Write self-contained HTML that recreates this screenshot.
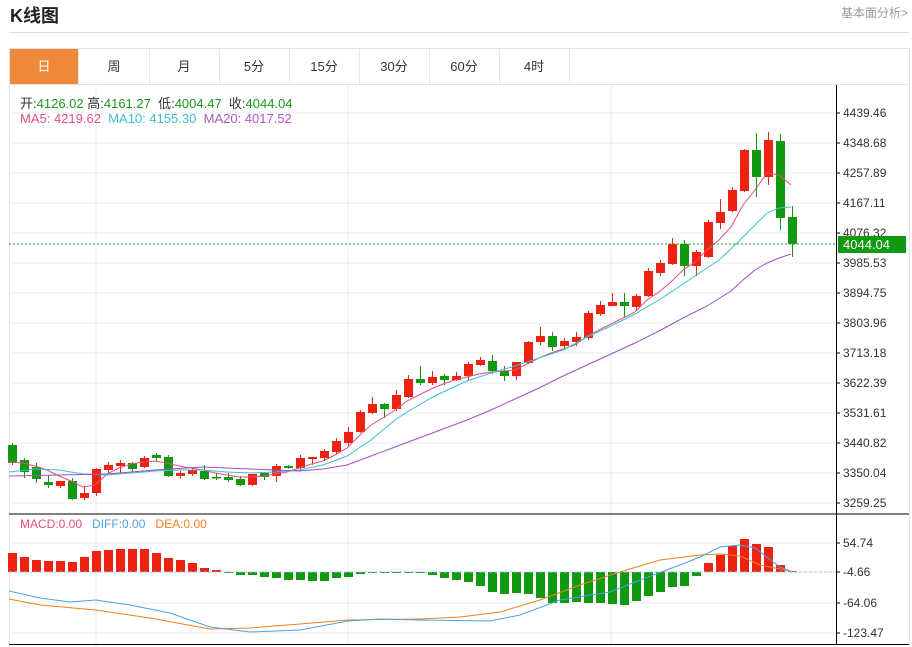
<!DOCTYPE html>
<html><head><meta charset="utf-8">
<style>
body{margin:0;background:#fff;width:912px;height:647px;overflow:hidden;font-family:"Liberation Sans","Noto Sans CJK SC",sans-serif;position:relative}
.t{position:absolute;white-space:nowrap}
.tab{position:absolute;top:49px;height:35px;line-height:35px;width:70px;text-align:center;font-size:13px;color:#333;border-right:1px solid #e6e6e6}
</style></head><body>
<div class="t" style="left:10px;top:2px;font-size:18px;font-weight:bold;color:#222">K线图</div>
<div class="t" style="right:4px;top:4px;font-size:12px;color:#999">基本面分析&gt;</div>
<div style="position:absolute;left:9px;top:32px;width:900px;height:1px;background:#ddd"></div>
<div style="position:absolute;left:9px;top:48px;width:899px;height:598px;border:1px solid #e3e3e3;border-bottom:none"></div>
<div style="position:absolute;left:10px;top:84px;width:898px;height:1px;background:#e3e3e3"></div>
<div class="tab" style="left:10px;background:#f0883a;color:#fff;width:68px">日</div>
<div class="tab" style="left:79px">周</div>
<div class="tab" style="left:149px">月</div>
<div class="tab" style="left:219px">5分</div>
<div class="tab" style="left:289px">15分</div>
<div class="tab" style="left:359px">30分</div>
<div class="tab" style="left:429px">60分</div>
<div class="tab" style="left:499px">4时</div>
<svg id="s" width="912" height="647" style="position:absolute;left:0;top:0" font-family="Liberation Sans, sans-serif" font-size="12"></svg>
<div class="t" style="left:20px;top:93px;font-size:13px;color:#333">开:<span style="color:#1a9a1a">4126.02</span> 高:<span style="color:#1a9a1a">4161.27</span> &nbsp;低:<span style="color:#1a9a1a">4004.47</span> &nbsp;收:<span style="color:#1a9a1a">4044.04</span></div>
<div class="t" style="left:20px;top:111px;font-size:13px"><span style="color:#e8507a">MA5: 4219.62</span> &nbsp;<span style="color:#3cbfcf">MA10: 4155.30</span> &nbsp;<span style="color:#b057c0">MA20: 4017.52</span></div>
<div class="t" style="left:20px;top:517px;font-size:12px"><span style="color:#e8507a">MACD:0.00</span> &nbsp;&nbsp;<span style="color:#4aa3e0">DIFF:0.00</span> &nbsp;&nbsp;<span style="color:#f08020">DEA:0.00</span></div>
<script>
const s=document.getElementById('s');let h='';
const G='#e8ecf0';
[113,143,173,203,233,263,293,323,353,383,413,443,473,503,543,572,603,633].forEach(y=>h+=`<line x1="9" x2="836" y1="${y}" y2="${y}" stroke="${G}"/>`);
[96,348,611].forEach(x=>h+=`<line x1="${x}" x2="${x}" y1="85" y2="645" stroke="${G}"/>`);
h+=`<line x1="836.5" x2="836.5" y1="85" y2="645" stroke="#000"/>`;
h+=`<line x1="9" x2="909" y1="514" y2="514" stroke="#000"/><line x1="9" x2="909" y1="644.5" y2="644.5" stroke="#000"/>`;
const L=[["4439.46",113],["4348.68",143],["4257.89",173],["4167.11",203],["4076.32",233],["3985.53",263],["3894.75",293],["3803.96",323],["3713.18",353],["3622.39",383],["3531.61",413],["3440.82",443],["3350.04",473],["3259.25",503],["54.74",543],["-4.66",572],["-64.06",603],["-123.47",633]];
L.forEach(([t,y])=>h+=`<line x1="836" x2="840" y1="${y}" y2="${y}" stroke="#000"/><text x="843" y="${y+4}" fill="#333">${t}</text>`);
// candles: [o,c,hi,lo] in px; red if c<o (y smaller = higher)
const C=[[445,463,443,465,'g'],[460,472,458,478,'g'],[467,479,463,483,'g'],[482,485,475,488,'g'],[486,481,481,488,'r'],[481,499,478,500,'g'],[498,493,486,500,'r'],[493,469,468,496,'r'],[470,465,462,474,'r'],[466,463,460,474,'r'],[463,469,462,472,'g'],[467,458,456,468,'r'],[455,458,453,462,'g'],[457,476,455,477,'g'],[476,473,471,479,'r'],[474,470,468,476,'r'],[471,479,465,480,'g'],[477,478,473,480,'g'],[477,480,473,482,'g'],[479,485,476,486,'g'],[485,474,474,486,'r'],[473,477,472,480,'g'],[476,466,464,482,'r'],[466,468,465,469,'g'],[468,458,455,471,'r'],[459,457,457,465,'r'],[458,451,449,461,'r'],[452,441,438,454,'r'],[443,432,427,446,'r'],[432,412,410,433,'r'],[413,404,397,414,'r'],[404,409,403,418,'g'],[409,395,390,411,'r'],[397,379,375,398,'r'],[379,383,366,385,'g'],[383,377,371,385,'r'],[376,380,374,385,'g'],[380,376,372,381,'r'],[376,364,362,380,'r'],[365,360,357,366,'r'],[361,371,355,374,'g'],[371,376,366,381,'g'],[376,362,362,380,'r'],[363,342,341,364,'r'],[342,336,327,345,'r'],[336,347,332,351,'g'],[346,341,338,349,'r'],[342,337,332,346,'r'],[338,313,311,340,'r'],[314,305,301,316,'r'],[306,302,293,306,'r'],[302,306,293,317,'g'],[307,296,294,311,'r'],[296,271,268,297,'r'],[273,263,260,276,'r'],[264,244,238,265,'r'],[244,266,240,276,'g'],[266,252,250,276,'r'],[257,222,220,258,'r'],[223,212,199,229,'r'],[211,190,187,212,'r'],[191,150,149,192,'r'],[150,177,133,197,'g'],[177,140,132,185,'r'],[141,218,134,230,'g'],[217,244,206,257,'g']];
C.forEach((c,i)=>{const x=12+i*12;const col=c[4]=='r'?'#ee2211':'#119911';const t=Math.min(c[0],c[1]),b=Math.max(c[0],c[1]);
h+=`<line x1="${x+0.5}" x2="${x+0.5}" y1="${c[2]}" y2="${c[3]}" stroke="${col}"/><rect x="${x-4}" y="${t}" width="9" height="${Math.max(b-t,1.5)}" fill="${col}"/>`;});
const pl=(p,c)=>h+=`<polyline fill="none" stroke="${c}" stroke-width="1" points="${p}"/>`;
pl("9,462 23,463 35,466 47,470 59,476 71,481 83,487 95,485 107,474 119,468 131,464 143,462 155,461 167,463 179,466 191,468 203,470 215,473 227,475 239,477 251,477 263,476 275,474 287,472 299,468 311,464 323,461 335,455 347,448 359,436 371,425 383,418 395,410 407,401 419,395 431,389 443,384 455,380 467,377 479,374 491,372 503,371 515,370 527,364 539,358 551,353 563,349 575,345 587,336 599,330 611,324 623,318 635,312 647,300 659,292 671,282 683,270 695,262 707,250 719,240 731,227 743,205 755,190 767,173 779,175 791,185","#e8507a");
pl("9,472 35,469 59,470 83,474 107,475 131,473 155,471 179,470 203,470 227,472 251,473 275,472 299,470 323,465 347,456 359,448 371,440 383,430 395,420 407,412 419,405 431,398 443,392 467,381 491,373 515,366 539,358 563,350 587,337 611,326 635,314 659,300 683,284 707,268 719,260 731,249 743,237 755,225 767,213 779,208 791,207","#3cbfcf");
pl("9,476 59,475 107,474 155,470 203,467 251,469 299,471 323,469 347,465 371,456 395,447 419,438 443,429 467,420 491,410 515,399 539,388 563,376 587,365 611,354 635,343 659,331 683,318 707,306 731,291 743,280 755,270 767,263 779,258 791,254","#a24fc0");
h+=`<line x1="9" x2="836" y1="244" y2="244" stroke="#119911" stroke-dasharray="2,2"/>`;
h+=`<rect x="838" y="236" width="68" height="17" fill="#119911"/><text x="843" y="249" fill="#fff" font-size="13">4044.04</text>`;
// MACD hist
const M=[553,557,560,561,561,562,557,551,550,549,549,549,553,558,560,563,568,570,573,575,575,577,578,580,580,581,581,578,577,574,573,573,573,573,573,575,578,580,582,586,592,594,593,594,598,603,603,602,603,603,604,605,601,596,592,587,586,576,563,555,546,539,544,547,565,571];
M.forEach((v,i)=>{const x=12+i*12;const r=v<572;const t=Math.min(v,572),hh=Math.max(Math.abs(v-572),1);h+=`<rect x="${x-4}" y="${t}" width="9" height="${hh}" fill="${r?'#ee2211':'#119911'}"/>`;});
h+=`<line x1="9" x2="836" y1="572" y2="572" stroke="#9cc8e8" stroke-dasharray="3,2"/>`;
pl("9,599 40,605 96,610 150,618 210,629 250,628 300,624 348,620 420,619 460,617 500,612 540,600 580,585 620,572 660,560 700,555 720,554 740,556 760,565 790,571","#f08020");
pl("9,591 40,598 70,602 96,600 130,605 170,613 210,627 250,632 300,630 348,621 380,619 420,620 490,621 520,615 560,600 610,592 640,580 680,565 700,557 720,547 740,545 755,548 780,567 790,571","#4aa3e0");
s.innerHTML=h;
</script>
</body></html>
